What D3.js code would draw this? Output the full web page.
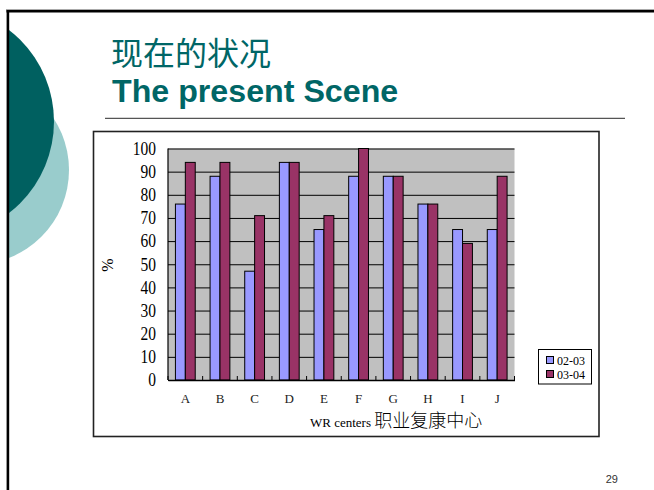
<!DOCTYPE html>
<html>
<head>
<meta charset="utf-8">
<script src="https://cdn.jsdelivr.net/npm/d3@7/dist/d3.min.js"></script>
<style>
  html, body { margin: 0; padding: 0; background: #fff; }
  svg { display: block; }
</style>
</head>
<body>
<svg id="chart" width="654" height="490"></svg>
<script>
// ---- data ----
const categories = ["A", "B", "C", "D", "E", "F", "G", "H", "I", "J"];
const seriesNames = ["02-03", "03-04"];
const values0203 = [76, 88, 47, 94, 65, 88, 88, 76, 65, 65];
const values0304 = [94, 94, 71, 94, 71, 100, 88, 76, 59, 88];
const yTicks = [0, 10, 20, 30, 40, 50, 60, 70, 80, 90, 100];
const titleZh = "现在的状况";
const titleEn = "The present Scene";
const xTitleEn = "WR centers ";
const xTitleZh = "职业复康中心";
const yTitle = "%";
const pageNumber = "29";

const colors = { "02-03": "#9999ff", "03-04": "#993366" };
const teal = "#006666";

const svg = d3.select("#chart");

// ---- slide decoration ----
svg.append("defs").append("clipPath").attr("id", "frameClip")
  .append("rect").attr("x", 9).attr("y", 12).attr("width", 645).attr("height", 478);

const deco = svg.append("g").attr("clip-path", "url(#frameClip)");
deco.append("circle").attr("cx", -25.5).attr("cy", 170).attr("r", 94.5).attr("fill", "#99cccc");
deco.append("circle").attr("cx", -61.5).attr("cy", 121.5).attr("r", 115.5).attr("fill", "#006060");

// frame
svg.append("line").attr("x1", 6).attr("x2", 654).attr("y1", 9.5).attr("y2", 9.5)
  .attr("stroke", "#aaa").attr("stroke-width", 1);
svg.append("line").attr("x1", 6.5).attr("x2", 654).attr("y1", 11.2).attr("y2", 11.2)
  .attr("stroke", "#000").attr("stroke-width", 2.6);
svg.append("line").attr("x1", 7.9).attr("x2", 7.9).attr("y1", 10).attr("y2", 490)
  .attr("stroke", "#000").attr("stroke-width", 2.6);

// titles
svg.append("text").attr("x", 111).attr("y", 65)
  .attr("font-family", "'Noto Sans CJK SC', sans-serif").attr("font-size", 32)
  .attr("fill", teal).text(titleZh);
svg.append("text").attr("x", 112).attr("y", 101.5)
  .attr("font-family", "'Liberation Sans', Arial, sans-serif").attr("font-weight", "bold")
  .attr("font-size", 32.2).attr("fill", teal).text(titleEn);
svg.append("line").attr("x1", 105).attr("x2", 625).attr("y1", 118.3).attr("y2", 118.3)
  .attr("stroke", "#555").attr("stroke-width", 1.3);

// page number
svg.append("text").attr("x", 618).attr("y", 483).attr("text-anchor", "end")
  .attr("font-family", "'Liberation Sans', Arial, sans-serif").attr("font-size", 11)
  .attr("fill", "#333").text(pageNumber);

// chart box
svg.append("rect").attr("x", 93.5).attr("y", 131.5).attr("width", 505.5).attr("height", 305)
  .attr("fill", "#fff").attr("stroke", "#222").attr("stroke-width", 1.6);

// ---- plot ----
const plot = { left: 168, right: 514.5, top: 148.5, bottom: 380 };
const x = d3.scaleBand().domain(categories).range([plot.left, plot.right]).padding(0);
const xSub = d3.scaleBand().domain(seriesNames).range([0, x.bandwidth()])
  .paddingInner(0).paddingOuter(0.75);
const y = d3.scaleLinear().domain([0, 100]).range([plot.bottom, plot.top]);

svg.append("rect").attr("x", plot.left).attr("y", plot.top)
  .attr("width", plot.right - plot.left).attr("height", plot.bottom - plot.top)
  .attr("fill", "#c0c0c0");

const serif = "'Liberation Serif', 'Times New Roman', serif";

// y axis with gridlines
const yAxis = svg.append("g").attr("transform", `translate(${plot.left},0)`)
  .call(d3.axisLeft(y).tickValues(yTicks).tickSize(-(plot.right - plot.left)).tickPadding(12)
    .tickFormat(d3.format("d")));
yAxis.attr("font-family", null);
yAxis.select(".domain").remove();
yAxis.selectAll(".tick line").attr("stroke", "#000").attr("stroke-width", 1);
yAxis.selectAll(".tick text").attr("font-family", serif).attr("font-size", 18)
  .attr("fill", "#000").attr("transform", "scale(0.86,1)").attr("x", -12 / 0.86);

// bars
const data = categories.map((c, i) => ({ cat: c, vals: [
  { s: "02-03", v: values0203[i] }, { s: "03-04", v: values0304[i] } ] }));
const groups = svg.append("g").selectAll("g").data(data).join("g")
  .attr("transform", d => `translate(${x(d.cat)},0)`);
groups.selectAll("rect").data(d => d.vals).join("rect")
  .attr("x", d => xSub(d.s)).attr("width", xSub.bandwidth())
  .attr("y", d => y(d.v)).attr("height", d => y(0) - y(d.v))
  .attr("fill", d => colors[d.s]).attr("stroke", "#000").attr("stroke-width", 1);

// y axis line
svg.append("line").attr("x1", plot.left).attr("x2", plot.left).attr("y1", plot.top).attr("y2", plot.bottom)
  .attr("stroke", "#000").attr("stroke-width", 1.2);

// x axis
const xAxis = svg.append("g").attr("transform", `translate(0,${plot.bottom})`)
  .call(d3.axisBottom(x).tickSize(0).tickPadding(14));
xAxis.attr("font-family", null);
xAxis.select(".domain").attr("stroke", "#000").attr("stroke-width", 1.5);
xAxis.selectAll(".tick text").attr("font-family", serif).attr("font-size", 13).attr("fill", "#222");

// inward tick marks at category boundaries
const boundaries = categories.map(c => x(c)).concat([plot.right]);
svg.append("g").selectAll("line").data(boundaries).join("line")
  .attr("x1", d => d).attr("x2", d => d).attr("y1", plot.bottom).attr("y2", plot.bottom - 4)
  .attr("stroke", "#000").attr("stroke-width", 1);

// axis titles
const xt = svg.append("text").attr("x", 310).attr("y", 427);
xt.append("tspan").attr("font-family", serif).attr("font-size", 13).text(xTitleEn);
xt.append("tspan").attr("font-family", "'Noto Sans CJK SC', sans-serif").attr("font-size", 18)
  .attr("font-weight", 300).text(xTitleZh);

svg.append("text").attr("transform", "translate(113,265) rotate(-90)")
  .attr("text-anchor", "middle").attr("font-family", serif).attr("font-size", 16)
  .text(yTitle);

// legend
const legend = svg.append("g");
legend.append("rect").attr("x", 538.5).attr("y", 349.5).attr("width", 53).attr("height", 34.5)
  .attr("fill", "#fff").attr("stroke", "#000").attr("stroke-width", 1);
const items = legend.selectAll("g.item").data(seriesNames).join("g").attr("class", "item")
  .attr("transform", (d, i) => `translate(0,${360 + i * 14})`);
items.append("rect").attr("x", 546.5).attr("y", -3.5).attr("width", 7).attr("height", 7)
  .attr("fill", d => colors[d]).attr("stroke", "#000").attr("stroke-width", 1);
items.append("text").attr("x", 557).attr("y", 4.5).attr("font-family", serif)
  .attr("font-size", 12).text(d => d);
</script>
</body>
</html>
